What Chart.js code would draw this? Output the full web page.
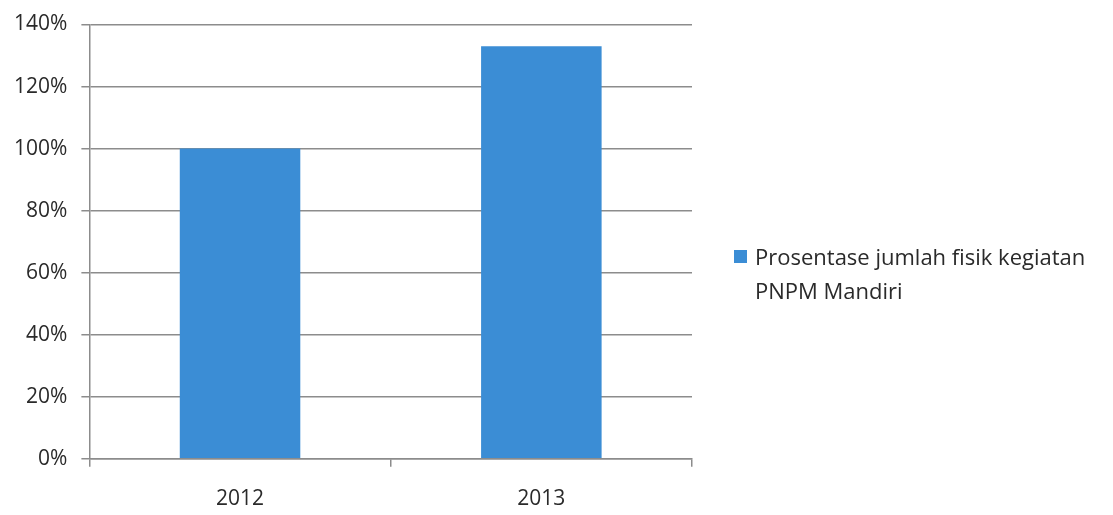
<!DOCTYPE html>
<html>
<head>
<meta charset="utf-8">
<script src="https://cdn.jsdelivr.net/npm/chart.js@4/dist/chart.umd.min.js"></script>
<style>
    html, body { margin: 0; padding: 0; background: #fff; }
    #wrap { position: relative; width: 1113px; height: 515px; }
    #legend {
        position: absolute; left: 734px; top: 239px;
        font-family: "Open Sans", sans-serif; font-size: 22px; color: #2a2a2a;
        line-height: 34px;
    }
    #legend .box {
        position: absolute; left: 0; top: 11px; width: 13px; height: 13px;
    }
    #legend .txt { margin-left: 21px; width: 370px; }
</style>
</head>
<body>
<div id="wrap">
    <canvas id="barChart" width="1113" height="515"></canvas>
    <div id="legend"></div>
</div>
<script>
//Data läst från bilden.
const years = ["2012", "2013"];
const percentValues = [100, 133];
const yTickValues = [0, 20, 40, 60, 80, 100, 120, 140];
const seriesLabel = "Prosentase jumlah fisik kegiatan PNPM Mandiri";

const barColor = "#3b8dd5";
const gridColor = "#8c8c8c";
const fontFamily = "'Open Sans', sans-serif";

/**Skapar stapeldiagrammet.
 * @function
 */
function createBarChart() {
    const ctx = document.getElementById("barChart");

    const chart = new Chart(ctx, {
        type: "bar",
        data: {
            labels: years,
            datasets: [{
                label: seriesLabel,
                data: percentValues,
                backgroundColor: barColor,
                barPercentage: 0.8,
                categoryPercentage: 0.5
            }]
        },
        options: {
            responsive: false,
            animation: false,
            layout: { padding: { left: 0, right: 421, top: 0, bottom: -17 } },
            plugins: {
                legend: { display: false },
                tooltip: { enabled: false }
            },
            scales: {
                y: {
                    min: 0,
                    max: 140,
                    afterBuildTicks: axis => {
                        axis.ticks = yTickValues.map(v => ({ value: v }));
                    },
                    ticks: {
                        callback: v => v + "%",
                        color: "#2a2a2a",
                        padding: 14,
                        font: { family: fontFamily, size: 21, lineHeight: 1 }
                    },
                    grid: { color: gridColor, lineWidth: 1.5, tickLength: 8 },
                    border: { color: gridColor, width: 1.5 }
                },
                x: {
                    ticks: {
                        color: "#2a2a2a",
                        padding: 20,
                        font: { family: fontFamily, size: 21 }
                    },
                    grid: {
                        offset: true,
                        drawOnChartArea: false,
                        color: gridColor,
                        lineWidth: 1.5,
                        tickLength: 8
                    },
                    border: { color: gridColor, width: 1.5 }
                }
            }
        }
    });

    //HTML-legend från datasetet.
    const ds = chart.data.datasets[0];
    document.getElementById("legend").innerHTML =
        '<div class="box" style="background:' + ds.backgroundColor + '"></div>' +
        '<div class="txt">' + ds.label + '</div>';
}

createBarChart();
</script>
</body>
</html>
